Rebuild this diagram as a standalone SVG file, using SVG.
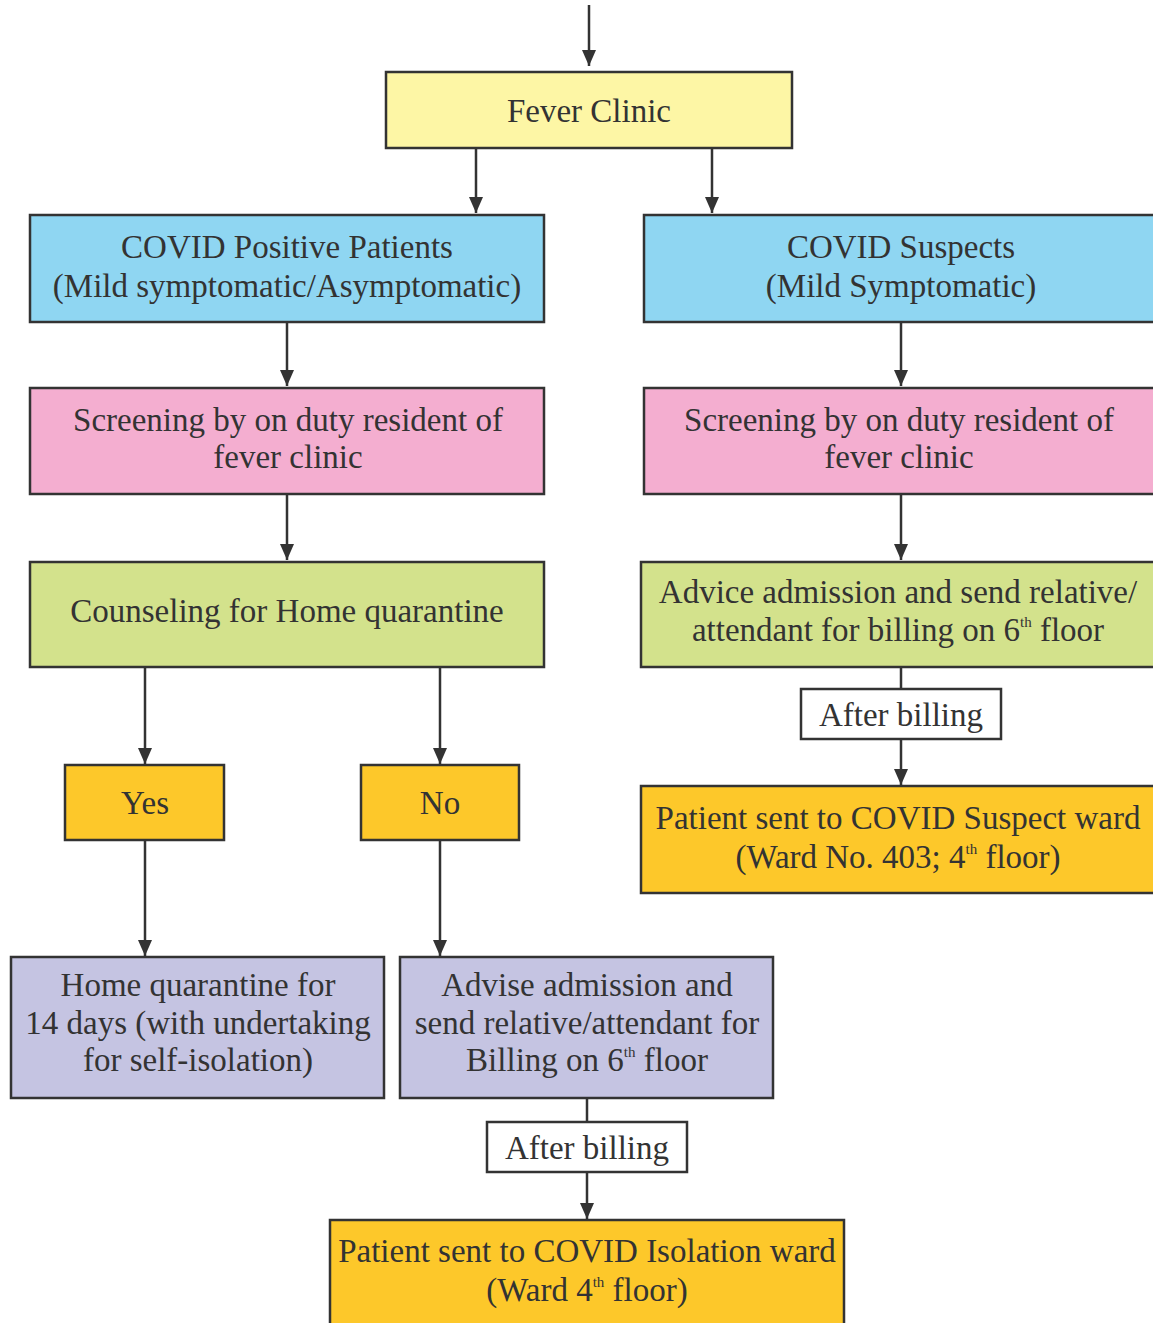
<svg xmlns="http://www.w3.org/2000/svg" width="1153" height="1323" viewBox="0 0 1153 1323">
<defs>
<marker id="ah" viewBox="0 0 16 14" refX="16" refY="7" markerWidth="16" markerHeight="14" markerUnits="userSpaceOnUse" orient="auto">
<path d="M0,0 L16,7 L0,14 Z" fill="#333"/>
</marker>
<style>
rect{stroke:#333;stroke-width:2.5}
text{font-family:"Liberation Serif","Times New Roman",serif;font-size:33px;fill:#333;text-anchor:middle}
.c line{stroke:#333;stroke-width:2.5}
.a{marker-end:url(#ah)}
.sup{font-size:15px}
.yel{fill:#fdf6a5}.blu{fill:#8fd6f2}.pnk{fill:#f4aed0}.grn{fill:#d3e28c}.org{fill:#fdc82a}.lav{fill:#c5c4e2}.wht{fill:#fff}
</style>
</defs>
<rect x="0" y="0" width="1153" height="1323" fill="#fff" style="stroke:none"/>
<g class="c" id="connectors">
<line class="a" x1="589" y1="5" x2="589" y2="66"/>
<line class="a" x1="476" y1="148" x2="476" y2="213"/>
<line class="a" x1="712" y1="148" x2="712" y2="213"/>
<line class="a" x1="287" y1="322" x2="287" y2="386"/>
<line class="a" x1="287" y1="494" x2="287" y2="560"/>
<line class="a" x1="901" y1="322" x2="901" y2="386"/>
<line class="a" x1="901" y1="494" x2="901" y2="560"/>
<line x1="901" y1="667" x2="901" y2="689"/>
<line class="a" x1="901" y1="739" x2="901" y2="785"/>
<line class="a" x1="145" y1="667" x2="145" y2="764"/>
<line class="a" x1="440" y1="667" x2="440" y2="764"/>
<line class="a" x1="145" y1="840" x2="145" y2="956"/>
<line class="a" x1="440" y1="840" x2="440" y2="956"/>
<line x1="587" y1="1098" x2="587" y2="1122"/>
<line class="a" x1="587" y1="1172" x2="587" y2="1219"/>
</g>
<g id="fever">
<rect class="yel" x="386" y="72" width="406" height="76"/>
<text x="589" y="122">Fever Clinic</text>
</g>
<g id="positive">
<rect class="blu" x="30" y="215" width="514" height="107"/>
<text x="287" y="258">COVID Positive Patients</text>
<text x="287" y="297">(Mild symptomatic/Asymptomatic)</text>
</g>
<g id="suspects">
<rect class="blu" x="644" y="215" width="520" height="107"/>
<text x="901" y="258">COVID Suspects</text>
<text x="901" y="297">(Mild Symptomatic)</text>
</g>
<g id="screenL">
<rect class="pnk" x="30" y="388" width="514" height="106"/>
<text x="288" y="431">Screening by on duty resident of</text>
<text x="288" y="468">fever clinic</text>
</g>
<g id="screenR">
<rect class="pnk" x="644" y="388" width="520" height="106"/>
<text x="899" y="431">Screening by on duty resident of</text>
<text x="899" y="468">fever clinic</text>
</g>
<g id="counsel">
<rect class="grn" x="30" y="562" width="514" height="105"/>
<text x="287" y="622">Counseling for Home quarantine</text>
</g>
<g id="adviceR">
<rect class="grn" x="641" y="562" width="523" height="105"/>
<text x="898" y="603">Advice admission and send relative/</text>
<text x="898" y="641">attendant for billing on 6<tspan class="sup" dy="-14">th</tspan><tspan dy="14"> floor</tspan></text>
</g>
<g id="afterR">
<rect class="wht" x="801" y="689" width="200" height="50"/>
<text x="901" y="726">After billing</text>
</g>
<g id="suspectWard">
<rect class="org" x="641" y="786" width="523" height="107"/>
<text x="898" y="829">Patient sent to COVID Suspect ward</text>
<text x="898" y="868">(Ward No. 403; 4<tspan class="sup" dy="-14">th</tspan><tspan dy="14"> floor)</tspan></text>
</g>
<g id="yes">
<rect class="org" x="65" y="765" width="159" height="75"/>
<text x="145" y="814">Yes</text>
</g>
<g id="no">
<rect class="org" x="361" y="765" width="158" height="75"/>
<text x="440" y="814">No</text>
</g>
<g id="home">
<rect class="lav" x="11" y="957" width="373" height="141"/>
<text x="198" y="996">Home quarantine for</text>
<text x="198" y="1034">14 days (with undertaking</text>
<text x="198" y="1071">for self-isolation)</text>
</g>
<g id="adviseL">
<rect class="lav" x="400" y="957" width="373" height="141"/>
<text x="587" y="996">Advise admission and</text>
<text x="587" y="1034">send relative/attendant for</text>
<text x="587" y="1071">Billing on 6<tspan class="sup" dy="-14">th</tspan><tspan dy="14"> floor</tspan></text>
</g>
<g id="afterL">
<rect class="wht" x="487" y="1122" width="200" height="50"/>
<text x="587" y="1159">After billing</text>
</g>
<g id="isolation">
<rect class="org" x="330" y="1220" width="514" height="110"/>
<text x="587" y="1262">Patient sent to COVID Isolation ward</text>
<text x="587" y="1301">(Ward 4<tspan class="sup" dy="-14">th</tspan><tspan dy="14"> floor)</tspan></text>
</g>
</svg>
